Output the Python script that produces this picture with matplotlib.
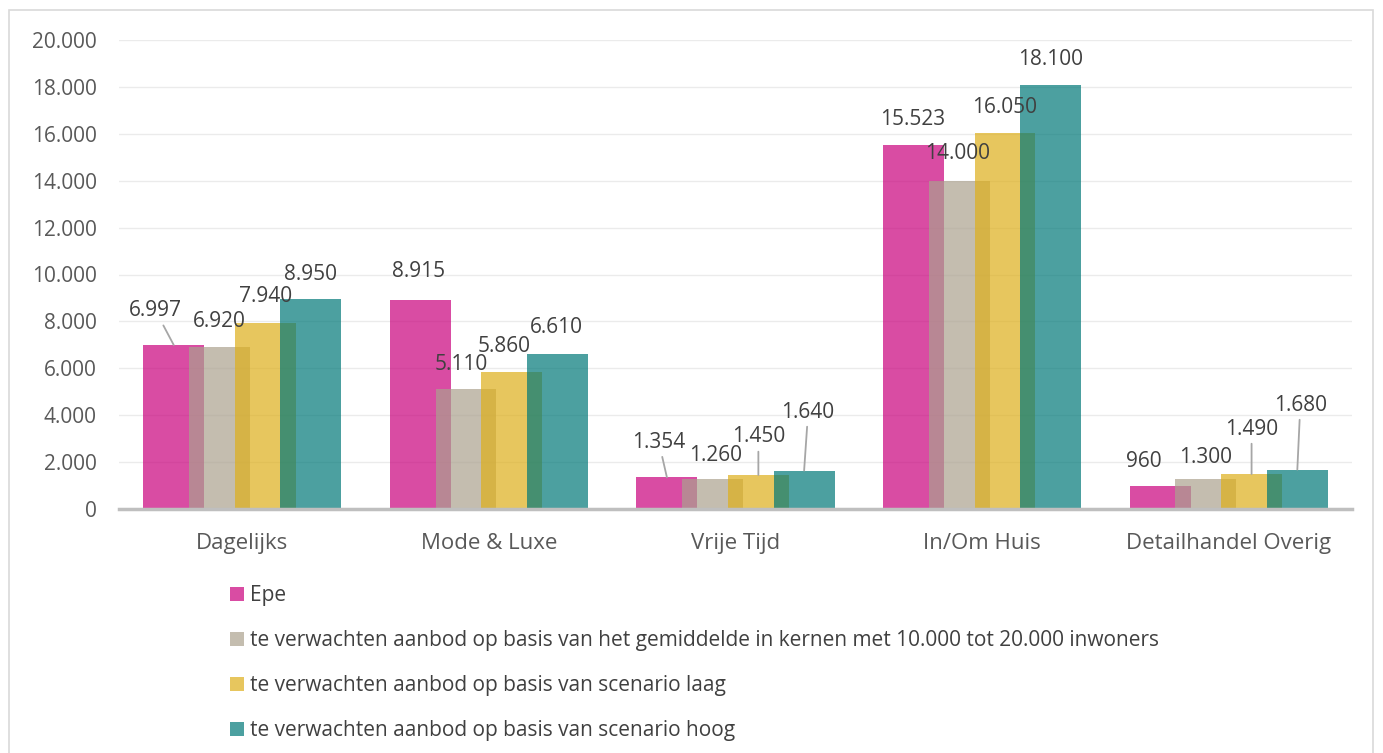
import matplotlib.pyplot as plt
from matplotlib.ticker import FuncFormatter, MultipleLocator
from matplotlib.patches import Rectangle
import numpy as np

plt.rcParams['font.family'] = ['Open Sans', 'DejaVu Sans']

categories = ['Dagelijks', 'Mode & Luxe', 'Vrije Tijd', 'In/Om Huis', 'Detailhandel Overig']
series_names = ['Epe',
                'te verwachten aanbod op basis van het gemiddelde in kernen met 10.000 tot 20.000 inwoners',
                'te verwachten aanbod op basis van scenario laag',
                'te verwachten aanbod op basis van scenario hoog']
epe = [6997, 8915, 1354, 15523, 960]
gemiddelde = [6920, 5110, 1260, 14000, 1300]
scenario_laag = [7940, 5860, 1450, 16050, 1490]
scenario_hoog = [8950, 6610, 1640, 18100, 1680]
values = [epe, gemiddelde, scenario_laag, scenario_hoog]

colors = ['#C9007C', '#ABA18E', '#DEAF1A', '#007878']

# label offsets from bar top (pixels, dx right / dy up), leader line flag
label_offsets = [
    [(-18, 34, True), (-1.5, 28, False), (-8, 35, True), (-1, 25, False), (-16, 24.5, False)],
    [(0, 25, False), (-5, 25, False), (3, 23.5, False), (-2, 27, False), (0, 21, False)],
    [(0, 26, False), (-8, 25.5, False), (0, 38, True), (0, 25.5, False), (0, 45, True)],
    [(0, 25, False), (-1.5, 26, False), (4, 58.5, True), (0, 25.5, False), (3, 64.5, True)],
]

def fmt(v, pos=None):
    return '{:,.0f}'.format(v).replace(',', '.')

fig = plt.figure(figsize=(13.83, 7.53), dpi=100)
ax = fig.add_axes([119 / 1383, 244 / 753, 1233 / 1383, 469 / 753])

x = np.arange(len(categories))
width = 0.247
step = 0.1855

bars = []
for i, vals in enumerate(values):
    b = ax.bar(x + (i - 1.5) * step, vals, width, color=colors[i], alpha=0.7,
               label=series_names[i], zorder=2 + i)
    bars.append(b)

px2pt = 0.72
for i, vals in enumerate(values):
    for j, v in enumerate(vals):
        dx, dy, leader = label_offsets[i][j]
        xc = x[j] + (i - 1.5) * step
        arrow = None
        if leader:
            arrow = dict(arrowstyle='-', color='#A6A6A6', lw=1.3, shrinkA=1, shrinkB=0)
        ax.annotate(fmt(v), xy=(xc, v), xytext=(dx * px2pt, dy * px2pt),
                    textcoords='offset points', ha='center', va='center',
                    fontsize=15, color='#404040', zorder=10, arrowprops=arrow)

ax.set_xlim(-0.5, 4.5)
ax.set_ylim(0, 20000)
ax.yaxis.set_major_locator(MultipleLocator(2000))
ax.yaxis.set_major_formatter(FuncFormatter(fmt))
ax.set_xticks(x)
ax.set_xticklabels(categories)
ax.tick_params(axis='y', length=0, pad=16, labelsize=15, labelcolor='#595959')
ax.tick_params(axis='x', length=0, pad=17, labelsize=16, labelcolor='#595959')
ax.grid(axis='y', color='#EBEBEB', lw=1, zorder=0)
ax.set_axisbelow(True)
for s in ['top', 'right', 'left']:
    ax.spines[s].set_visible(False)
ax.spines['bottom'].set_color('#BFBFBF')
ax.spines['bottom'].set_linewidth(2.5)
ax.spines['bottom'].set_zorder(20)

leg = fig.legend(handles=bars, loc='upper left', bbox_to_anchor=(222 / 1383, 1 - 577 / 753),
                 frameon=False, fontsize=15, handlelength=0.65, handleheight=0.65,
                 handletextpad=0.3, labelspacing=1.15, borderaxespad=0)
for t in leg.get_texts():
    t.set_color('#404040')

fig.add_artist(Rectangle((9 / 1383, -0.01), 1364 / 1383, 1 - 10 / 753 + 0.01,
                         transform=fig.transFigure, fill=False, edgecolor='#D9D9D9', lw=1.2))

fig.savefig('out.png', dpi=100)
